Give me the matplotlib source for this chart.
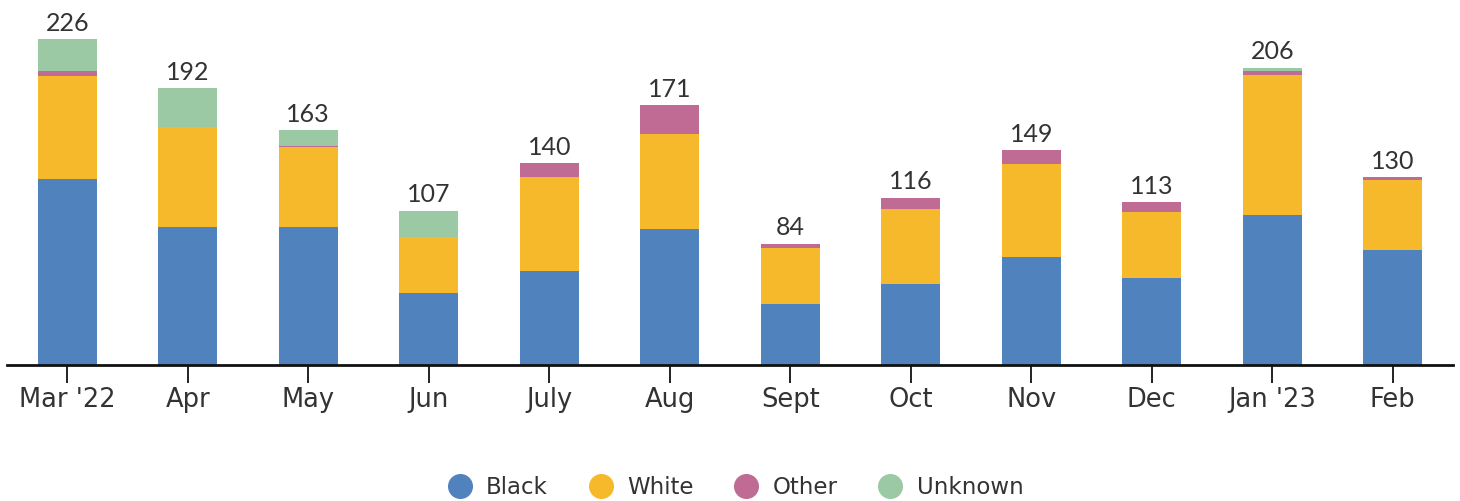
import matplotlib
matplotlib.use("Agg")
import matplotlib.pyplot as plt
from matplotlib.lines import Line2D
import numpy as np

months = ["Mar '22", "Apr", "May", "Jun", "July", "Aug", "Sept", "Oct", "Nov", "Dec", "Jan '23", "Feb"]
black = [129, 96, 96, 50, 65, 94, 42, 56, 75, 60, 104, 80]
white = [71, 69, 55, 39, 65, 66, 39, 52, 64, 46, 97, 48]
other = [4, 0, 1, 0, 10, 20, 3, 8, 10, 7, 3, 2]
unknown = [22, 27, 11, 18, 0, 0, 0, 0, 0, 0, 2, 0]
totals = [226, 192, 163, 107, 140, 171, 84, 116, 149, 113, 206, 130]

series = [("Black", black, "#5082bd"), ("White", white, "#f6b92b"),
          ("Other", other, "#c06b93"), ("Unknown", unknown, "#9ac9a3")]

fig = plt.figure(figsize=(14.6, 5.01), dpi=100)
ax = fig.add_axes([7/1460, (501-365)/501, (1453-7)/1460, 365/501])

x = np.arange(len(months))
bottom = np.zeros(len(months))
for name, vals, col in series:
    ax.bar(x, vals, 0.49, bottom=bottom, color=col, label=name, linewidth=0)
    bottom += np.array(vals)

for xi, top, t in zip(x, bottom, totals):
    ax.text(xi, top + 3, str(t), ha="center", va="bottom", fontsize=18,
            family="Lato", color="#333333")

ax.set_xlim(-0.5, 11.5)
ax.set_ylim(0, 253)
ax.set_yticks([])
for s in ["top", "right", "left"]:
    ax.spines[s].set_visible(False)
ax.spines["bottom"].set_linewidth(2)
ax.spines["bottom"].set_color("#111111")
ax.set_xticks(x)
ax.set_xticklabels(months, fontsize=18.5, family="DejaVu Sans", color="#333333")
ax.tick_params(axis="x", length=13, width=1.3, color="#111111", pad=3)

handles = [Line2D([0], [0], marker="o", linestyle="none", markersize=17,
                  markerfacecolor=c, markeredgecolor=c) for _, _, c in series]
fig.legend(handles, [n for n, _, _ in series], loc="center", bbox_to_anchor=(0.5, 0.027),
           ncol=4, frameon=False, handletextpad=0.15, columnspacing=1.3,
           prop={"family": "DejaVu Sans", "size": 16.5}, labelcolor="#333333")

fig.savefig("out.png", dpi=100)
